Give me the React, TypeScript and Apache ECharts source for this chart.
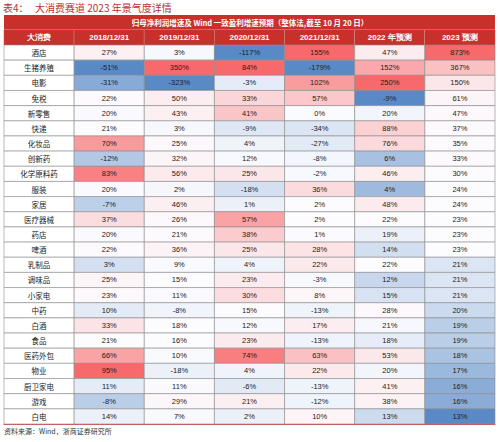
import React, { useEffect, useRef } from "react";
import * as echarts from "echarts";

const columns = ["大消费", "2018/12/31", "2019/12/31", "2020/12/31", "2021/12/31", "2022 年预测", "2023 预测"];
const sectors = ["酒店", "生猪养殖", "电影", "免税", "新零售", "快递", "化妆品", "创新药", "化学原料药", "服装", "家居", "医疗器械", "药店", "啤酒", "乳制品", "调味品", "小家电", "中药", "白酒", "食品", "医药外包", "物业", "厨卫家电", "游戏", "白电"];
const v2018 = [27, -51, -31, 22, 20, 21, 70, -12, 83, 20, -7, 37, 20, 22, 3, 25, 23, 10, 33, 21, 66, 95, 11, -8, 14];
const v2019 = [3, 350, -323, 50, 43, 3, 25, 32, 56, 2, 46, 26, 21, 36, 9, 15, 11, -8, 18, 16, 10, -18, 11, 29, 7];
const v2020 = [-117, 84, -3, 33, 41, -9, 4, 12, 25, -18, 1, 57, 38, 25, 4, 23, 30, 15, 12, 23, 74, 4, -6, 21, 2];
const v2021 = [155, -179, 102, 57, 0, -34, -27, -8, -2, 36, 2, 2, 1, 28, 22, -3, 8, -13, 17, -13, 63, 22, -13, -12, 10];
const v2022 = [47, 152, 250, -9, 20, 88, 76, 6, 46, 4, 48, 22, 19, 14, 22, 12, 15, 28, 21, 18, 53, 20, 41, 38, 13];
const v2023 = [873, 367, 150, 61, 47, 37, 35, 33, 30, 24, 24, 23, 23, 23, 21, 21, 21, 20, 19, 19, 18, 17, 16, 16, 13];
const valueColumns = [v2018, v2019, v2020, v2021, v2022, v2023];

const titleLead = "表4：";
const titleText = "大消费赛道 2023 年景气度详情";
const headerTitle = "归母净利润增速及 Wind 一致盈利增速预期（整体法,截至 10 月 20 日）";
const sourceText = "资料来源：Wind，浙商证券研究所";

const RED = [248, 105, 107];
const WHITE = [252, 252, 255];
const BLUE = [90, 138, 198];
const HEADER_RED = "#C8302B";
const CJK = "Noto Sans CJK SC";
const LATIN = "Liberation Sans";
const CELL_FONT = 7.5;
const HEAD_FONT = 8;

function mix(a: number[], b: number[], t: number) {
  const c = a.map((x, i) => Math.round(x + (b[i] - x) * t));
  return `rgb(${c[0]},${c[1]},${c[2]})`;
}

function scaleColors(vals: number[]) {
  const s = [...vals].sort((a, b) => a - b);
  const n = s.length;
  const pos = (n - 1) * 0.5;
  const lo = Math.floor(pos);
  const hi = Math.ceil(pos);
  const mid = s[lo] + (s[hi] - s[lo]) * (pos - lo);
  const mn = s[0];
  const mx = s[n - 1];
  return vals.map((v) => {
    if (v >= mid) {
      const t = mx === mid ? 0 : (v - mid) / (mx - mid);
      return mix(WHITE, RED, t);
    }
    const t = mid === mn ? 0 : (mid - v) / (mid - mn);
    return mix(WHITE, BLUE, t);
  });
}

export default function App() {
  const ref = useRef<HTMLDivElement>(null);
  useEffect(() => {
    document.body.style.margin = "0";
    if (!ref.current) return;
    const chart = echarts.init(ref.current, undefined, { renderer: "svg" });
    const data: number[][] = [];
    const fills: string[] = [];
    const texts: string[] = [];
    sectors.forEach((name, i) => {
      data.push([0, i, 0]);
      fills.push("#ffffff");
      texts.push("");
    });
    valueColumns.forEach((col, j) => {
      const colors = scaleColors(col);
      col.forEach((v, i) => {
        data.push([j + 1, i, v]);
        fills.push(colors[i]);
        texts.push(v + "%");
      });
    });
    const colWidth = (500 - 4 - 5) / columns.length;
    chart.setOption({
      animation: false,
      grid: { left: 4, right: 5, top: 45, bottom: 18 },
      xAxis: [
        {
          type: "category",
          data: columns,
          position: "top",
          axisLine: { show: false },
          axisTick: { show: false },
          splitLine: { show: false },
          axisLabel: {
            interval: 0,
            margin: 0,
            color: "#ffffff",
            fontWeight: "bold",
            fontSize: HEAD_FONT,
            fontFamily: LATIN,
            backgroundColor: HEADER_RED,
            borderColor: "#d9a09c",
            borderWidth: 0.5,
            width: 70,
            height: 15,
            lineHeight: 15,
            align: "center",
            padding: 0,
          },
        },
        {
          type: "category",
          data: columns,
          position: "bottom",
          axisLine: { show: true, lineStyle: { color: "#D9534F", width: 1 } },
          axisTick: { show: false },
          axisLabel: { show: false },
          splitLine: { show: false },
        },
      ],
      yAxis: {
        type: "category",
        data: sectors,
        inverse: true,
        axisLine: { show: false },
        axisTick: { show: false },
        splitLine: { show: false },
        z: 10,
        axisLabel: {
          interval: 0,
          margin: -colWidth / 2,
          align: "center",
          color: "#222222",
          fontSize: CELL_FONT,
          fontFamily: CJK,
        },
      },
      series: [
        {
          type: "custom",
          xAxisIndex: 0,
          z: 1,
          data,
          renderItem: (params: any, api: any) => {
            const idx = params.dataIndex;
            const c = api.coord([api.value(0), api.value(1)]);
            const sz = api.size([1, 1]);
            return {
              type: "group",
              children: [
                {
                  type: "rect",
                  shape: { x: c[0] - sz[0] / 2, y: c[1] - sz[1] / 2, width: sz[0], height: sz[1] },
                  style: { fill: fills[idx], stroke: "#8c8c8c", lineWidth: 0.6 },
                },
                {
                  type: "text",
                  x: c[0],
                  y: c[1],
                  style: {
                    text: texts[idx],
                    fill: "#222222",
                    fontSize: CELL_FONT,
                    fontFamily: LATIN,
                    align: "center",
                    verticalAlign: "middle",
                  },
                },
              ],
            };
          },
        },
      ],
      graphic: [
        {
          type: "text",
          left: 3,
          top: 2,
          style: { text: titleLead, fill: "#B8312F", fontSize: 10, fontFamily: CJK },
        },
        {
          type: "text",
          left: 35,
          top: 2,
          style: { text: titleText, fill: "#B8312F", fontSize: 10, fontFamily: CJK },
        },
        {
          type: "rect",
          shape: { x: 4, y: 15, width: 491, height: 15 },
          style: { fill: HEADER_RED },
          z: -1,
        },
        {
          type: "text",
          x: 250,
          y: 22.5,
          style: {
            text: headerTitle,
            fill: "#ffffff",
            fontSize: 7.5,
            fontWeight: "bold",
            fontFamily: CJK,
            align: "center",
            verticalAlign: "middle",
          },
        },
        {
          type: "text",
          left: 4,
          top: 427,
          style: { text: sourceText, fill: "#333333", fontSize: 7, fontFamily: CJK },
        },
      ],
    });
    return () => chart.dispose();
  }, []);
  return <div ref={ref} style={{ width: 500, height: 442 }} />;
}
